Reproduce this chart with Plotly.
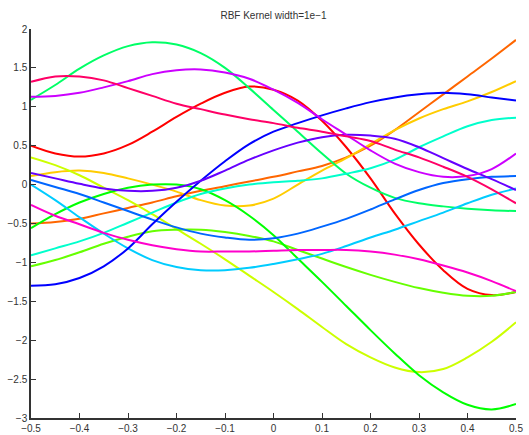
import plotly.graph_objects as go
import colorsys

x = [round(-0.5 + 0.05 * i, 2) for i in range(21)]

red = [0.50, 0.40, 0.36, 0.40, 0.51, 0.68, 0.87, 1.04, 1.18, 1.26, 1.22, 1.08, 0.82, 0.48, 0.08, -0.37, -0.77, -1.10, -1.34, -1.42, -1.38]
orange = [-0.50, -0.48, -0.44, -0.37, -0.30, -0.23, -0.15, -0.08, -0.02, 0.04, 0.10, 0.17, 0.24, 0.35, 0.50, 0.70, 0.93, 1.16, 1.39, 1.62, 1.86]
amber = [0.11, 0.16, 0.18, 0.15, 0.08, 0.00, -0.09, -0.20, -0.27, -0.27, -0.18, 0.00, 0.18, 0.34, 0.52, 0.70, 0.85, 0.97, 1.07, 1.19, 1.33]
lime = [0.35, 0.25, 0.12, -0.04, -0.20, -0.38, -0.57, -0.76, -0.96, -1.17, -1.38, -1.60, -1.83, -2.05, -2.22, -2.35, -2.41, -2.37, -2.22, -2.02, -1.77]
chartreuse = [-1.05, -0.97, -0.87, -0.76, -0.67, -0.60, -0.58, -0.58, -0.61, -0.66, -0.73, -0.84, -0.95, -1.06, -1.16, -1.25, -1.33, -1.39, -1.43, -1.43, -1.38]
green = [-0.56, -0.38, -0.23, -0.12, -0.04, 0.00, 0.00, -0.06, -0.20, -0.40, -0.65, -0.95, -1.25, -1.56, -1.87, -2.17, -2.45, -2.67, -2.83, -2.89, -2.82]
spring = [1.09, 1.28, 1.49, 1.66, 1.78, 1.83, 1.80, 1.69, 1.50, 1.24, 0.96, 0.68, 0.40, 0.14, -0.04, -0.17, -0.24, -0.28, -0.31, -0.33, -0.34]
turquoise = [-0.91, -0.82, -0.73, -0.62, -0.49, -0.36, -0.23, -0.12, -0.05, 0.00, 0.03, 0.05, 0.08, 0.14, 0.21, 0.32, 0.48, 0.62, 0.75, 0.83, 0.86]
sky = [0.00, -0.20, -0.42, -0.63, -0.82, -0.97, -1.06, -1.10, -1.10, -1.07, -1.02, -0.96, -0.89, -0.79, -0.68, -0.58, -0.47, -0.36, -0.24, -0.13, -0.05]
azure = [0.06, -0.03, -0.12, -0.23, -0.34, -0.45, -0.55, -0.63, -0.68, -0.71, -0.69, -0.63, -0.54, -0.44, -0.32, -0.19, -0.07, 0.02, 0.07, 0.10, 0.11]
blue = [-1.30, -1.28, -1.20, -1.05, -0.82, -0.51, -0.22, 0.05, 0.30, 0.52, 0.68, 0.79, 0.89, 0.98, 1.06, 1.12, 1.16, 1.18, 1.16, 1.12, 1.08]
purple = [0.15, 0.08, 0.01, -0.05, -0.08, -0.08, -0.04, 0.05, 0.18, 0.32, 0.44, 0.54, 0.61, 0.64, 0.63, 0.59, 0.48, 0.34, 0.20, 0.07, -0.07]
violet = [1.13, 1.14, 1.18, 1.25, 1.33, 1.42, 1.47, 1.48, 1.44, 1.36, 1.22, 1.05, 0.84, 0.64, 0.44, 0.27, 0.16, 0.10, 0.11, 0.20, 0.40]
magenta = [-0.26, -0.40, -0.51, -0.62, -0.71, -0.78, -0.83, -0.86, -0.86, -0.86, -0.85, -0.84, -0.84, -0.84, -0.86, -0.90, -0.96, -1.04, -1.13, -1.24, -1.37]
rose = [1.32, 1.39, 1.39, 1.34, 1.24, 1.14, 1.04, 0.97, 0.90, 0.84, 0.79, 0.73, 0.68, 0.62, 0.56, 0.45, 0.35, 0.23, 0.10, -0.06, -0.24]

series = [red, orange, amber, lime, chartreuse, green, spring, turquoise,
          sky, azure, blue, purple, violet, magenta, rose]

x_ticks = [-0.5, -0.4, -0.3, -0.2, -0.1, 0, 0.1, 0.2, 0.3, 0.4, 0.5]
y_ticks = [-3, -2.5, -2, -1.5, -1, -0.5, 0, 0.5, 1, 1.5, 2]


def hsv_color(i, n):
    r, g, b = colorsys.hsv_to_rgb(i / n, 1, 1)
    return f"rgb({int(round(r*255))},{int(round(g*255))},{int(round(b*255))})"


fig = go.Figure()
n = len(series)
for i, ys in enumerate(series):
    fig.add_trace(go.Scatter(
        x=x, y=ys, mode="lines",
        line=dict(color=hsv_color(i, n), width=2, shape="spline", smoothing=1.0),
        showlegend=False, hoverinfo="skip",
    ))

axis_common = dict(
    showgrid=False, zeroline=False, showline=True, linecolor="#333333",
    linewidth=1.5, ticks="inside", ticklen=5, tickwidth=1.3, tickcolor="#333333",
    mirror=False, automargin=False,
    tickfont=dict(family="Liberation Sans, Arial, sans-serif", size=10, color="#333333"),
)

fig.update_layout(
    template="none",
    width=529, height=435,
    margin=dict(l=31, r=13, t=29, b=17),
    paper_bgcolor="white", plot_bgcolor="white",
    title=dict(text="RBF Kernel width=1e\u22121", x=0.5, xref="paper", xanchor="center",
               y=0.965, yanchor="middle",
               font=dict(family="Liberation Sans, Arial, sans-serif", size=10, color="#333333")),
    xaxis=dict(range=[-0.5, 0.5], tickvals=x_ticks, **axis_common),
    yaxis=dict(range=[-3, 2], tickvals=y_ticks, **axis_common),
)

fig.write_html("out.html")
